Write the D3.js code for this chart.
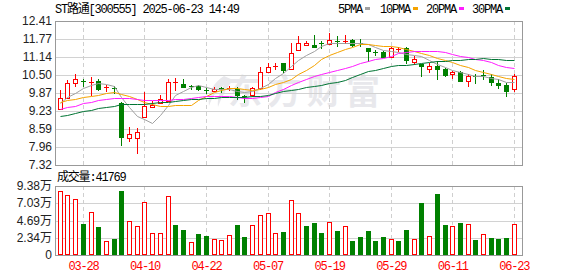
<!DOCTYPE html>
<html>
<head>
<meta charset="utf-8">
<script src="https://cdn.jsdelivr.net/npm/d3@7"></script>
<style>
  body { margin: 0; background: #fff; }
</style>
</head>
<body>
<div id="chart"></div>
<script>
// trading days shown (2025)
const dates = ["03-25","03-26","03-27","03-28","03-31","04-01","04-02","04-03","04-07","04-08",
  "04-09","04-10","04-11","04-14","04-15","04-16","04-17","04-18","04-21","04-22",
  "04-23","04-24","04-25","04-28","04-29","04-30","05-06","05-07","05-08","05-09",
  "05-12","05-13","05-14","05-15","05-16","05-19","05-20","05-21","05-22","05-23",
  "05-26","05-27","05-28","05-29","05-30","06-03","06-04","06-05","06-06","06-09",
  "06-10","06-11","06-12","06-13","06-16","06-17","06-18","06-19","06-20","06-23"];

const open = [9.29,9.68,10.21,10.29,10.23,10.29,10.03,10.04,9.50,8.26,
  8.26,9.01,9.36,9.52,9.59,10.23,10.18,10.10,10.11,9.97,
  9.93,10.05,10.01,10.02,9.77,9.78,10.03,10.62,10.77,10.92,
  10.70,11.39,11.55,11.57,11.62,11.61,11.71,11.68,11.74,11.64,
  11.44,11.31,11.31,11.15,11.39,11.45,10.97,10.89,10.71,10.83,
  10.70,10.53,10.62,10.30,10.48,10.51,10.42,10.21,10.15,10.01];
const high = [9.97,10.32,10.53,10.36,10.44,10.36,10.14,10.11,9.56,8.65,
  8.62,9.91,9.59,9.79,10.36,10.41,10.36,10.15,10.16,10.04,
  10.08,10.09,10.11,10.07,9.78,10.09,10.77,10.92,10.92,10.94,
  11.64,11.89,11.70,11.92,11.70,11.98,11.89,11.92,11.76,11.76,
  11.46,11.39,11.36,11.50,11.48,11.48,11.17,10.89,10.92,11.01,
  10.74,10.64,10.65,10.53,10.53,10.68,10.53,10.35,10.21,10.53];
const low = [9.29,9.68,10.11,10.11,9.79,9.97,9.94,9.85,8.03,8.18,
  7.76,9.01,9.36,9.50,9.59,9.97,10.09,10.01,9.97,9.85,
  9.93,9.91,9.97,9.64,9.54,9.76,10.01,10.62,10.70,10.62,
  10.70,11.39,11.55,11.48,11.45,11.59,11.54,11.62,11.53,11.53,
  11.00,11.21,11.13,11.15,11.36,10.92,10.88,10.48,10.60,10.36,
  10.47,10.41,10.30,10.11,10.23,10.36,10.15,10.05,9.76,9.95];
const close = [9.68,10.21,10.36,10.24,10.26,10.01,10.07,10.01,8.32,8.41,
  8.50,9.42,9.44,9.64,10.25,10.26,10.09,10.07,10.01,9.93,
  10.00,10.00,10.05,9.79,9.71,10.03,10.60,10.77,10.82,10.68,
  11.27,11.62,11.64,11.50,11.59,11.74,11.67,11.71,11.55,11.60,
  11.36,11.27,11.15,11.45,11.42,11.03,11.06,10.83,10.82,10.71,
  10.50,10.61,10.30,10.47,10.44,10.48,10.26,10.15,9.95,10.47];

// volume (lots) and its bar colour as drawn (1 = red, 0 = green)
const volume = [86600,81600,75700,42100,58000,37600,19000,21800,87000,45800,
  39000,71600,29500,29500,79700,40800,34000,17200,28500,25800,
  21300,19900,26700,40800,24500,40300,53900,56600,29500,31300,
  74300,56600,39400,43500,29900,44400,32600,39000,19000,24500,
  32600,19000,24500,21300,19000,34000,21300,70700,25400,82900,
  40800,39000,43500,41700,20400,28100,23100,21800,23100,41769];
const volUp = [1,1,1,0,1,0,1,0,0,1, 1,1,1,1,1,0,0,1,0,0,
  1,1,1,0,0,1,1,1,1,0, 1,1,0,0,0,1,0,1,0,0,
  0,0,0,1,0,0,1,0,1,0, 0,1,0,1,0,1,0,0,0,1];

const ma5 = [9.52,9.71,9.86,10.03,10.15,10.22,10.19,10.12,9.73,9.36,
  9.06,8.93,8.82,9.08,9.45,9.80,9.94,10.06,10.14,10.07,
  10.02,10.00,10.00,9.95,9.91,9.92,10.04,10.18,10.39,10.58,
  10.83,11.03,11.21,11.34,11.52,11.62,11.63,11.64,11.65,11.65,
  11.58,11.50,11.39,11.36,11.33,11.26,11.22,11.16,11.03,10.89,
  10.78,10.69,10.59,10.52,10.46,10.46,10.39,10.36,10.26,10.26];
const ma10 = [9.53,9.60,9.66,9.73,9.77,9.81,9.85,9.90,9.83,9.76,
  9.64,9.56,9.47,9.41,9.41,9.43,9.43,9.44,9.61,9.76,
  9.91,9.97,10.03,10.04,9.99,9.97,10.02,10.09,10.17,10.25,
  10.37,10.54,10.69,10.87,11.05,11.22,11.33,11.42,11.50,11.59,
  11.60,11.56,11.51,11.51,11.49,11.42,11.36,11.27,11.20,11.11,
  11.02,10.96,10.87,10.77,10.68,10.62,10.54,10.47,10.39,10.36];
const ma20 = [9.30,9.36,9.42,9.50,9.56,9.62,9.65,9.68,9.69,9.68,
  9.66,9.62,9.60,9.60,9.61,9.64,9.66,9.68,9.71,9.76,
  9.77,9.76,9.75,9.73,9.70,9.70,9.73,9.76,9.89,10.00,
  10.14,10.25,10.36,10.45,10.52,10.60,10.67,10.76,10.83,10.92,
  10.99,11.05,11.10,11.19,11.27,11.32,11.34,11.35,11.35,11.35,
  11.31,11.26,11.19,11.14,11.08,11.02,10.95,10.87,10.79,10.74];
const ma30 = [9.05,9.10,9.16,9.22,9.28,9.33,9.38,9.42,9.46,9.47,
  9.47,9.47,9.50,9.53,9.56,9.58,9.61,9.64,9.66,9.68,
  9.69,9.71,9.72,9.73,9.74,9.75,9.77,9.80,9.85,9.92,
  9.97,10.02,10.06,10.11,10.15,10.21,10.26,10.32,10.43,10.53,
  10.63,10.69,10.75,10.81,10.84,10.87,10.90,10.93,10.96,10.98,
  11.00,11.02,11.03,11.05,11.07,11.09,11.08,11.06,11.03,11.02];

const priceTicks = [12.41, 11.77, 11.14, 10.50, 9.87, 9.23, 8.59, 7.96, 7.32];
const volTicks = [93800, 70300, 46900, 23400, 0];
const dateTicks = [3, 11, 19, 27, 35, 43, 51, 59];

const maSeries = [
  { name: "5PMA",  values: ma5,  color: "#a0a0a0" },
  { name: "10PMA", values: ma10, color: "#f5a300" },
  { name: "20PMA", values: ma20, color: "#ff1cff" },
  { name: "30PMA", values: ma30, color: "#007433" }
];

const red = "#ff0000", green = "#008000";
const mono = "'Liberation Mono', 'Noto Sans CJK SC', monospace";
const sans = "'Liberation Sans', Arial, 'Noto Sans CJK SC', sans-serif";

const width = 578, height = 276;
const left = 55, right = 522;
const kTop = 21, kBot = 165, vTop = 186, vBot = 255;

const svg = d3.select("#chart").append("svg")
  .attr("width", width)
  .attr("height", height);

const n = dates.length;
const x = d3.scaleBand().domain(d3.range(n)).range([56.45, 518.15]);
const cx = i => Math.floor(x(i) + x.bandwidth() / 2);

const y = d3.scaleLinear().domain([7.32, 12.41]).rangeRound([kBot, kTop]);
const vy = d3.scaleLinear().domain([0, 93800]).rangeRound([vBot, vTop]);

// watermark
const wm = svg.append("g").attr("fill", "#e8e8ec");
wm.append("path")
  .attr("d", "M224,76 C214,82 207,93 209,106 C212,97 217,90 224,85 C219,93 217,100 218,107 C222,96 228,86 233,80 Z");
wm.append("text")
  .attr("x", 228).attr("y", 104)
  .attr("font-family", "'Noto Sans CJK SC', sans-serif")
  .attr("font-weight", "bold")
  .attr("font-size", 34)
  .attr("textLength", 152)
  .text("东方财富");

// horizontal grid + price labels
const yAxis = svg.append("g")
  .attr("transform", "translate(" + left + ",0)")
  .call(d3.axisLeft(y).tickValues(priceTicks).tickFormat(d3.format(".2f"))
    .tickSize(-(right - left)).tickPadding(3));
yAxis.select(".domain").remove();
yAxis.selectAll("line").attr("stroke", "#d2d2d2");
yAxis.selectAll("text").attr("font-family", sans).attr("font-size", 12).attr("fill", "#222");

const vAxis = svg.append("g")
  .attr("transform", "translate(" + left + ",0)")
  .call(d3.axisLeft(vy).tickValues(volTicks)
    .tickFormat(d => d === 0 ? "0" : (d / 10000).toFixed(2) + "万")
    .tickSize(-(right - left)).tickPadding(3));
vAxis.select(".domain").remove();
vAxis.selectAll("line").attr("stroke", "#d2d2d2");
vAxis.selectAll("text").attr("font-family", sans).attr("font-size", 12).attr("fill", "#222");

// vertical dashed grid
[[kTop, kBot], [vTop, vBot]].forEach(([t, b]) => {
  svg.append("g").selectAll("line")
    .data(dateTicks).join("line")
    .attr("x1", i => cx(i) + 0.5).attr("x2", i => cx(i) + 0.5)
    .attr("y1", t).attr("y2", b)
    .attr("stroke", "#cfcfcf")
    .attr("stroke-dasharray", "4,3");
});

// date labels
const xAxis = svg.append("g")
  .attr("transform", "translate(0," + vBot + ")")
  .call(d3.axisBottom(x).tickValues(dateTicks).tickFormat(i => dates[i]).tickSize(0).tickPadding(6));
xAxis.select(".domain").remove();
xAxis.selectAll("text")
  .attr("font-family", mono).attr("font-size", 12)
  .attr("letter-spacing", "-1.2px")
  .attr("fill", red);

// panel borders
[[kTop, kBot], [vTop, vBot]].forEach(([t, b]) => {
  svg.append("rect")
    .attr("x", left + 0.5).attr("y", t + 0.5)
    .attr("width", right - left).attr("height", b - t)
    .attr("fill", "none").attr("stroke", "#999");
});

// volume bars
const vol = svg.append("g");
d3.range(n).forEach(i => {
  const top = vy(volume[i]);
  if (volUp[i]) {
    vol.append("rect")
      .attr("x", cx(i) - 2 + 0.5).attr("y", top + 0.5)
      .attr("width", 4).attr("height", Math.max(vBot - top - 1, 0))
      .attr("fill", "#fff").attr("stroke", red);
  } else {
    vol.append("rect")
      .attr("x", cx(i) - 2).attr("y", top)
      .attr("width", 5).attr("height", vBot - top)
      .attr("fill", green);
  }
});

// candles
const candles = svg.append("g");
d3.range(n).forEach(i => {
  const up = close[i] >= open[i];
  const col = up ? red : green;
  const top = Math.min(y(open[i]), y(close[i]));
  const bot = Math.max(y(open[i]), y(close[i]));
  candles.append("line")
    .attr("x1", cx(i) + 0.5).attr("x2", cx(i) + 0.5)
    .attr("y1", y(high[i])).attr("y2", y(low[i]) + 1)
    .attr("stroke", col);
  if (bot - top < 2) {
    candles.append("rect")
      .attr("x", cx(i) - 2).attr("y", top)
      .attr("width", 5).attr("height", Math.max(bot - top, 1))
      .attr("fill", col);
  } else if (up) {
    candles.append("rect")
      .attr("x", cx(i) - 2 + 0.5).attr("y", top + 0.5)
      .attr("width", 4).attr("height", bot - top)
      .attr("fill", "#fff").attr("stroke", red);
  } else {
    candles.append("rect")
      .attr("x", cx(i) - 2).attr("y", top)
      .attr("width", 5).attr("height", bot - top + 1)
      .attr("fill", green);
  }
});

// moving averages
const line = d3.line().x((d, i) => cx(i) + 0.5).y(d => y(d) + 0.5);
svg.append("g").selectAll("path")
  .data(maSeries).join("path")
  .attr("d", d => line(d.values))
  .attr("fill", "none")
  .attr("stroke", d => d.color)
  .attr("stroke-width", 1);

// header
svg.append("text")
  .attr("x", 55).attr("y", 13)
  .attr("font-family", mono).attr("font-size", 12)
  .attr("letter-spacing", "-1.2px")
  .attr("fill", "#000")
  .text("ST路通[300555] 2025-06-23 14:49");

// legend
const legX = [338, 380, 426, 472];
const leg = svg.append("g").selectAll("g")
  .data(maSeries).join("g")
  .attr("transform", (d, i) => "translate(" + legX[i] + ",0)");
leg.append("text")
  .attr("y", 13)
  .attr("font-family", mono).attr("font-size", 12)
  .attr("letter-spacing", "-1.2px")
  .attr("fill", "#000")
  .text(d => d.name);
leg.append("rect")
  .attr("x", d => d.name.length * 6 + 3).attr("y", 7)
  .attr("width", 5).attr("height", 3)
  .attr("fill", d => d.color);

// volume caption
svg.append("text")
  .attr("x", 57).attr("y", 181)
  .attr("font-family", mono).attr("font-size", 12)
  .attr("letter-spacing", "-1.2px")
  .attr("fill", "#000")
  .text("成交量:" + volume[n - 1]);
</script>
</body>
</html>
